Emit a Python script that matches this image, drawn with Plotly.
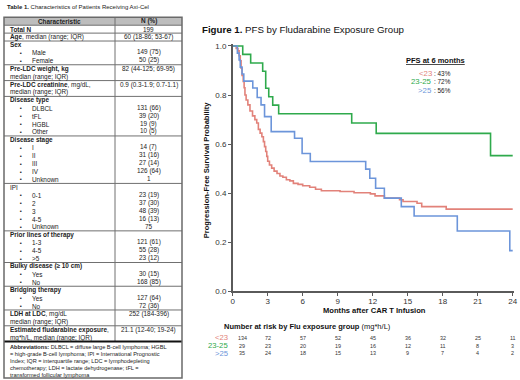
import plotly.graph_objects as go

# ---------------- data ----------------
months_ticks = [0, 3, 6, 9, 12, 15, 18, 21, 24]
groups = ["<23", "23-25", ">25"]
pfs6 = ["43%", "72%", "56%"]

t_lt23 = [0, 0.3, 0.45, 0.55, 0.65, 0.72, 0.8, 0.9, 0.98, 1.05, 1.15, 1.3, 1.48, 1.7, 1.9, 2.06, 2.2,
          2.35, 2.5, 2.63, 2.73, 2.83, 2.92, 3.0, 3.15, 3.34, 3.55, 3.8, 4.05, 4.3, 4.6, 4.9, 5.2,
          5.6, 6.0, 6.6, 7.1, 7.6, 9.2, 10.4, 11.8, 12.2, 13.0, 14.3, 14.6, 15.8, 16.2, 18.3, 24]
s_lt23 = [1.0, 0.99, 0.98, 0.96, 0.94, 0.91, 0.88, 0.855, 0.83, 0.80, 0.78, 0.76, 0.735, 0.715, 0.70,
          0.686, 0.66, 0.645, 0.63, 0.61, 0.59, 0.57, 0.55, 0.53, 0.515, 0.502, 0.49, 0.48, 0.47,
          0.465, 0.455, 0.45, 0.44, 0.436, 0.43, 0.424, 0.416, 0.41, 0.407, 0.402, 0.397, 0.389,
          0.38, 0.373, 0.366, 0.359, 0.345, 0.335, 0.335]

t_2325 = [0, 0.86, 1.54, 2.57, 2.83, 3.09, 3.43, 3.94, 10.2, 12.3, 22.1, 24]
s_2325 = [1.0, 0.966, 0.931, 0.897, 0.828, 0.793, 0.759, 0.724, 0.686, 0.644, 0.553, 0.553]

t_gt25 = [0, 0.4, 0.55, 0.65, 0.8, 0.95, 1.72, 2.1, 2.43, 2.73, 3.3, 5.3, 5.95, 6.65, 11.4, 11.75,
          12.25, 13.0, 14.45, 15.55, 19.25, 23.75, 24]
s_gt25 = [1.0, 0.971, 0.943, 0.914, 0.886, 0.857, 0.829, 0.79, 0.76, 0.712, 0.651, 0.624, 0.562,
          0.529, 0.498, 0.461, 0.42, 0.38, 0.345, 0.307, 0.246, 0.166, 0.166]

risk_lt23 = [134, 72, 57, 52, 45, 36, 32, 25, 11]
risk_2325 = [29, 23, 20, 19, 16, 12, 11, 8, 3]
risk_gt25 = [35, 24, 18, 15, 13, 9, 7, 4, 2]

head_lines = [
    ["<b>Total N</b>"],
    ["<b>Age</b>, median (range; IQR)"],
    ["<b>Sex</b>"],
    ["<b>Pre-LDC weight, kg</b>", "median (range; IQR)"],
    ["<b>Pre-LDC creatinine</b>, mg/dL,", "median (range; IQR)"],
    ["<b>Disease type</b>"],
    ["<b>Disease stage</b>"],
    ["IPI"],
    ["<b>Prior lines of therapy</b>"],
    ["<b>Bulky disease (≥ 10 cm)</b>"],
    ["<b>Bridging therapy</b>"],
    ["<b>LDH at LDC</b>, mg/dL", "median (range; IQR)"],
    ["<b>Estimated fludarabine exposure</b>,", "mg*h/L, median (range; IQR)"],
]
head_values = ["199", "60 (18-86; 53-67)", "", "82 (44-125; 69-95)", "0.9 (0.3-1.9; 0.7-1.1)",
               "", "", "", "", "", "", "252 (184-396)", "21.1 (12-40; 19-24)"]
bullet_labels = [[], [], ["Male", "Female"], [], [], ["DLBCL", "tFL", "HGBL", "Other"],
                 ["I", "II", "III", "IV", "Unknown"], ["0-1", "2", "3", "4-5", "Unknown"],
                 ["1-3", "4-5", ">5"], ["Yes", "No"], ["Yes", "No"], [], []]
bullet_values = [[], [], ["149 (75)", "50 (25)"], [], [], ["131 (66)", "39 (20)", "19 (9)", "10 (5)"],
                 ["14 (7)", "31 (16)", "27 (14)", "126 (64)", "1"],
                 ["23 (19)", "37 (30)", "48 (39)", "16 (13)", "75"],
                 ["121 (61)", "55 (28)", "23 (12)"], ["30 (15)", "168 (85)"], ["127 (64)", "72 (36)"],
                 [], []]
abbrev_lines = [
    "<b>Abbreviations:</b> DLBCL = diffuse large B-cell lymphoma; HGBL",
    "= high-grade B-cell lymphoma; IPI = International Prognostic",
    "Index; IQR = interquartile range; LDC = lymphodepleting",
    "chemotherapy; LDH = lactate dehydrogenase; tFL =",
    "transformed follicular lymphoma",
]

# ---------------- layout helpers ----------------
W, H = 520, 380
FONT = "Arial, Liberation Sans, sans-serif"
colors = ["#E2827A", "#2FAA4C", "#6C95DA"]
annotations = []
shapes = []


def px(x):
    return x / W


def py(y):
    return 1 - y / H


def ann(x, y, text, size, xanchor="left", color="#222", **kw):
    annotations.append(dict(x=px(x), y=py(y), xref="paper", yref="paper", text=text,
                            showarrow=False, xanchor=xanchor, yanchor="middle",
                            font=dict(size=size, color=color, family=FONT), **kw))


def hline(x0, x1, y, color="#707070", width=1):
    shapes.append(dict(type="line", xref="paper", yref="paper", x0=px(x0), x1=px(x1),
                       y0=py(y), y1=py(y), line=dict(color=color, width=width)))


# ---------------- table ----------------
TL, TR, TC = 4, 182, 115
TOP, LH = 17.3, 7.91
TS = 6.4
ann(5, 7.3, "<b>Table 1.</b> Characteristics of Patients Receiving Axi-Cel", 6.0)
shapes.append(dict(type="rect", xref="paper", yref="paper", x0=px(TL), x1=px(TR), y0=py(TOP),
                   y1=py(TOP + LH), fillcolor="#BDBDBD", line=dict(width=0), layer="below"))
ann((TL + TC) / 2, TOP + LH / 2, "<b>Characteristic</b>", TS, "center")
ann((TC + TR) / 2, TOP + LH / 2, "<b>N (%)</b>", TS, "center")
y = TOP + LH
VC = (TC + TR) / 2
for hl, hv, bl, bv in zip(head_lines, head_values, bullet_labels, bullet_values):
    hline(TL, TR, y)
    for j, t in enumerate(hl):
        ann(7.5, y + (j + 0.5) * LH, t, TS)
    if hv:
        ann(VC, y + 0.5 * LH, hv, TS, "center")
    for k, (b, v) in enumerate(zip(bl, bv)):
        yy = y + (len(hl) + k + 0.5) * LH
        ann(21, yy, "▪", 5.5, "center")
        ann(29.5, yy, b, TS)
        ann(VC, yy - 0.5, v, TS, "center")
    y += (len(hl) + len(bl)) * LH
shapes.append(dict(type="line", xref="paper", yref="paper", x0=px(TC), x1=px(TC), y0=py(TOP),
                   y1=py(y), line=dict(color="#707070", width=1)))
hline(TL, TR, y, color="#111", width=2)
for k, t in enumerate(abbrev_lines):
    ann(7.5, y + 5 + 7 * k, t, 5.6)
BOT = 378
shapes.append(dict(type="rect", xref="paper", yref="paper", x0=px(TL), x1=px(TR), y0=py(TOP),
                   y1=py(BOT), line=dict(color="#6A6A6A", width=1.5)))

# ---------------- KM plot ----------------
X0PX, PXM = 232.7, 11.667
Y0PX, PXU = 291.3, 245.3
XMAX, YMAX = 24.1, 1.01
fig = go.Figure()
for name, t, s, c in zip(groups, [t_lt23, t_2325, t_gt25], [s_lt23, s_2325, s_gt25], colors):
    fig.add_trace(go.Scatter(x=t, y=s, mode="lines", line=dict(color=c, width=1.6, shape="hv"),
                             name=name, showlegend=False, hoverinfo="skip"))

axis_common = dict(showline=True, linecolor="#5A5A5A", linewidth=1.5, ticks="outside", ticklen=3,
                   tickcolor="#5A5A5A", tickwidth=1, showgrid=False, zeroline=False,
                   automargin=False, tickfont=dict(size=8, color="#333", family=FONT))
fig.update_xaxes(range=[0, XMAX], tickvals=months_ticks, ticklabelstandoff=-2,
                 domain=[px(X0PX), px(X0PX + XMAX * PXM)], **axis_common)
fig.update_yaxes(range=[0, YMAX], tickvals=[0, 0.2, 0.4, 0.6, 0.8, 1.0],
                 ticktext=["0.0", "0.2", "0.4", "0.6", "0.8", "1.0"],
                 domain=[py(Y0PX), py(Y0PX - YMAX * PXU)], **axis_common)

ann(200, 29.3, "<b>Figure 1.</b> PFS by Fludarabine Exposure Group", 9.7, color="#111")
ann(374, 310.5, "<b>Months after CAR T Infusion</b>", 7.6, "center", color="#111", borderpad=0)
ann(206, 170.3, "<b>Progression-Free Survival Probability</b>", 7.6, "center", color="#111",
    textangle=-90)

# legend box
ann(435.7, 61, "<b><u>PFS at 6 months</u></b>", 7.5, "center", color="#111")
for i, (g, p, c) in enumerate(zip(groups, pfs6, colors)):
    yy = 73 + 8.6 * i
    ann(432.7, yy, g.replace("<", "&lt;"), 7.8, "right", color=c, borderpad=0)
    ann(432.7, yy, ": " + p, 6.4, "left", color="#222", borderpad=0)

# number at risk
ann(222, 326, "<b>Number at risk by Flu exposure group</b> (mg*h/L)", 7.5, color="#111")
for i, (g, vals, c) in enumerate(zip(groups, [risk_lt23, risk_2325, risk_gt25], colors)):
    yy = [337.7, 345.7, 353.3][i]
    ann(229.3, yy, g.replace("<", "&lt;"), 7.7, "right", color=c, borderpad=0)
    for m, v in zip(months_ticks, vals):
        annotations.append(dict(x=m, y=py(yy), xref="x", yref="paper", text=str(v),
                                showarrow=False, xanchor="center", yanchor="middle",
                                xshift=9.5 if m == 0 else 0,
                                font=dict(size=5.4, color="#333", family=FONT)))

fig.update_layout(width=W, height=H, margin=dict(l=0, r=0, t=0, b=0),
                  paper_bgcolor="white", plot_bgcolor="white",
                  annotations=annotations, shapes=shapes, showlegend=False)
fig.write_html("out.html", config={"displayModeBar": False},
               post_script="document.body.style.margin='0px';document.body.style.overflow='hidden';")
